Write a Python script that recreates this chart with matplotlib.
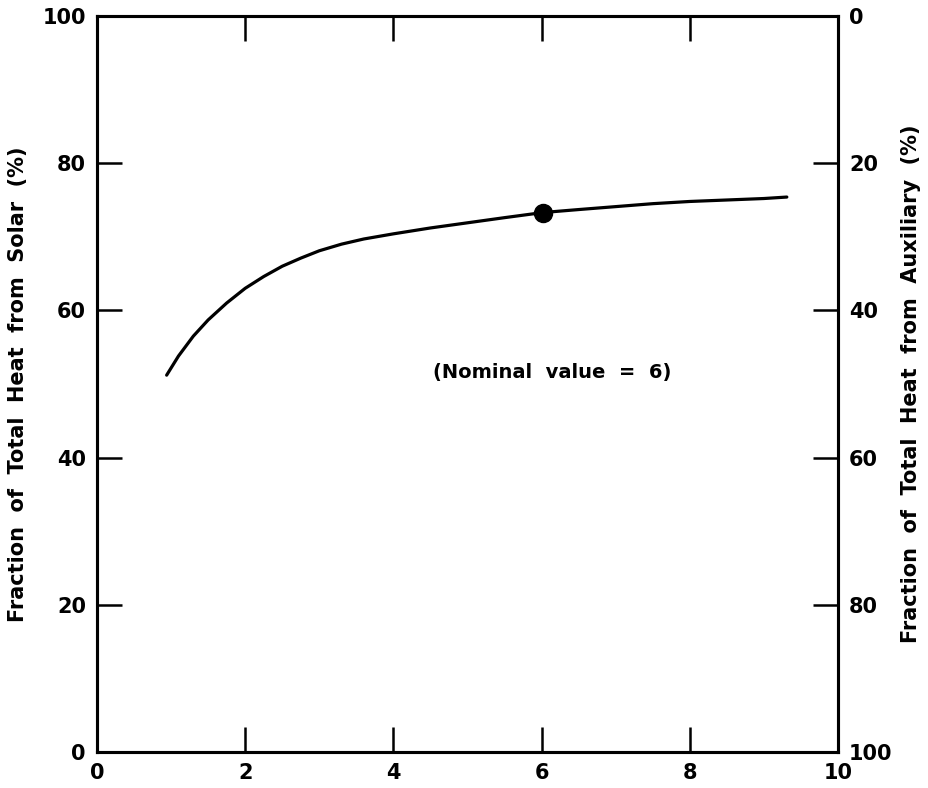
import matplotlib
matplotlib.use("Agg")
import matplotlib.pyplot as plt

# curve
ratio = [0.94, 1.1, 1.3, 1.5, 1.75, 2.0, 2.25, 2.5, 2.75, 3.0, 3.3, 3.6,
         4.0, 4.5, 5.0, 5.5, 6.02, 6.5, 7.0, 7.5, 8.0, 8.5, 9.0, 9.31]
solar_pct = [51.2, 53.8, 56.5, 58.7, 61.0, 63.0, 64.6, 66.0, 67.1, 68.1, 69.0, 69.7,
             70.4, 71.2, 71.9, 72.6, 73.3, 73.7, 74.1, 74.5, 74.8, 75.0, 75.2, 75.4]
nominal_x = 6.02
nominal_y = 73.3

x_ticks = [0, 2, 4, 6, 8, 10]
y_ticks = [0, 20, 40, 60, 80, 100]

plt.rcParams["font.family"] = ["DejaVu Sans"]
plt.rcParams["font.weight"] = "bold"

fig = plt.figure(figsize=(9.29, 7.88), dpi=100)
ax = fig.add_axes([0.1044, 0.0457, 0.7976, 0.934])

ax.plot(ratio, solar_pct, color="black", lw=2.3, solid_capstyle="round",
        solid_joinstyle="round")
ax.plot([nominal_x], [nominal_y], "o", color="black", markersize=13)
ax.text(6.15, 51.6, "(Nominal  value  =  6)", ha="center", va="center",
        fontsize=14, fontweight="bold")

ax.set_xlim(0, 10)
ax.set_ylim(0, 100)
ax.set_xticks(x_ticks)
ax.set_yticks(y_ticks)
ax.tick_params(axis="both", direction="in", length=18, width=1.8,
               labelsize=15, pad=8)
ax.tick_params(axis="x", top=True)
ax.set_ylabel("Fraction  of  Total  Heat  from  Solar  (%)",
              fontsize=15, fontweight="bold", labelpad=10)

for s in ax.spines.values():
    s.set_linewidth(2.2)

ax2 = ax.twinx()
ax2.set_ylim(100, 0)
ax2.set_yticks(y_ticks)
ax2.tick_params(axis="y", direction="in", length=18, width=1.8,
                labelsize=15, pad=8)
ax2.set_ylabel("Fraction  of  Total  Heat  from  Auxiliary  (%)",
               fontsize=15, fontweight="bold", labelpad=6, rotation=90)
for s in ax2.spines.values():
    s.set_linewidth(2.2)

fig.savefig("out.png", dpi=100)
